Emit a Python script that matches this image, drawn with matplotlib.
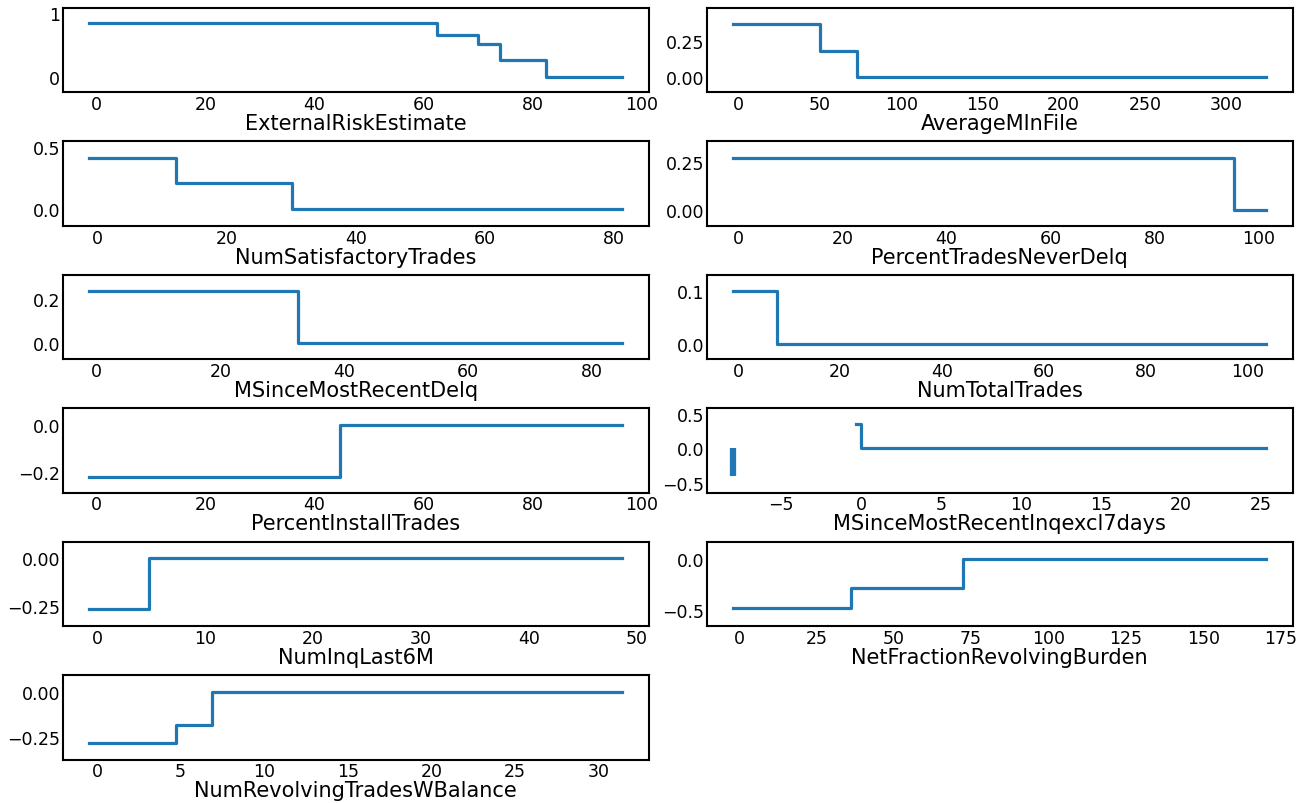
import matplotlib
matplotlib.use("Agg")
import matplotlib.pyplot as plt

# feature names, in subplot order (row by row)
names = ["ExternalRiskEstimate", "AverageMInFile",
         "NumSatisfactoryTrades", "PercentTradesNeverDelq",
         "MSinceMostRecentDelq", "NumTotalTrades",
         "PercentInstallTrades", "MSinceMostRecentInqexcl7days",
         "NumInqLast6M", "NetFractionRevolvingBurden",
         "NumRevolvingTradesWBalance"]

# step breakpoints (x) and values (y)
ere_x = [-1.3, 62.5, 70, 74, 82.5, 96.4]
ere_y = [0.84, 0.65, 0.51, 0.27, 0.0, 0.0]
amf_x = [-3.4, 50, 73, 324.6]
amf_y = [0.37, 0.18, 0.0, 0.0]
nst_x = [-1.2, 12.2, 30.2, 81.2]
nst_y = [0.415, 0.21, 0.0, 0.0]
ptnd_x = [-1.0, 95.2, 101.4]
ptnd_y = [0.273, 0.0, 0.0]
msmrd_x = [-1.2, 32.6, 84.9]
msmrd_y = [0.237, 0.0, 0.0]
ntt_x = [-1.0, 7.6, 103.7]
ntt_y = [0.101, 0.0, 0.0]
pit_x = [-1.3, 44.6, 96.4]
pit_y = [-0.224, 0.0, 0.0]
msmri_x = [-0.35, 0.0, 25.3]
msmri_y = [0.355, 0.0, 0.0]
msmri_special_x = [-8, -8]
msmri_special_y = [-0.40, 0.0]
nil_x = [-0.7, 4.8, 48.6]
nil_y = [-0.267, 0.0, 0.0]
nfrb_x = [-1.8, 36.2, 72.3, 170.3]
nfrb_y = [-0.477, -0.29, 0.0, 0.0]
nrt_x = [-0.45, 4.7, 6.9, 31.4]
nrt_y = [-0.283, -0.183, 0.0, 0.0]

steps = [(ere_x, ere_y), (amf_x, amf_y), (nst_x, nst_y), (ptnd_x, ptnd_y),
         (msmrd_x, msmrd_y), (ntt_x, ntt_y), (pit_x, pit_y),
         (msmri_x, msmri_y), (nil_x, nil_y), (nfrb_x, nfrb_y),
         (nrt_x, nrt_y)]

yticks = [[0, 1], [0.0, 0.25], [0.0, 0.5], [0.0, 0.25], [0.0, 0.2],
          [0.0, 0.1], [-0.2, 0.0], [-0.5, 0.0, 0.5], [-0.25, 0.0],
          [-0.5, 0.0], [-0.25, 0.0]]
ylims = [(-0.24, 1.08), (-0.105, 0.48), (-0.135, 0.548), (-0.083, 0.36),
         (-0.071, 0.31), (-0.03, 0.132), (-0.29, 0.071), (-0.644, 0.58),
         (-0.354, 0.086), (-0.658, 0.164), (-0.373, 0.091)]

blue = "#1f77b4"

fig, axes = plt.subplots(6, 2, figsize=(13.07, 8.04), dpi=100)
plt.subplots_adjust(left=0.048, right=0.989, top=0.989, bottom=0.054,
                    wspace=0.099, hspace=0.58)

for i, ax in enumerate(axes.flat):
    if i >= len(names):
        ax.remove()
        continue
    x, y = steps[i]
    ax.step(x, y, where="post", color=blue, lw=2.3)
    if names[i] == "MSinceMostRecentInqexcl7days":
        ax.plot(msmri_special_x, msmri_special_y, color=blue, lw=4.5,
                solid_capstyle="butt")
    ax.set_ylim(*ylims[i])
    ax.set_yticks(yticks[i])
    ax.set_xlabel(names[i], fontsize=15, labelpad=0)
    ax.tick_params(axis="both", length=0, labelsize=12.5)
    ax.tick_params(axis="y", pad=2)
    ax.tick_params(axis="x", pad=2)
    for sp in ax.spines.values():
        sp.set_linewidth(1.5)
        sp.set_color("black")

fig.savefig("out.png", dpi=100)
